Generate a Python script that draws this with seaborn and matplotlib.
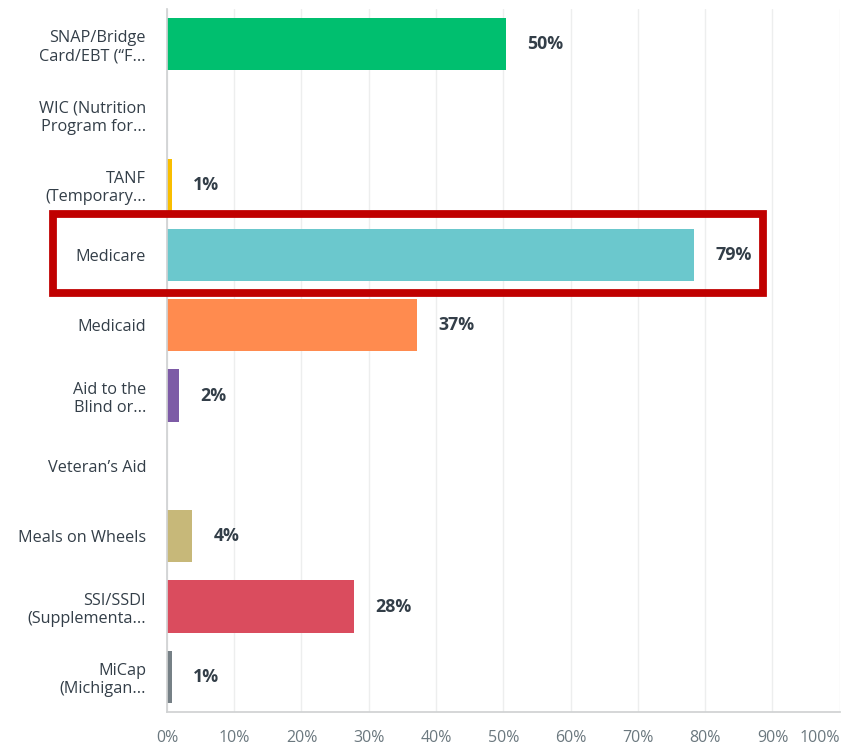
import matplotlib
matplotlib.use("Agg")
import matplotlib.pyplot as plt
from matplotlib.patches import Rectangle
import seaborn as sns
import pandas as pd

categories = [
    "SNAP/Bridge\nCard/EBT (“F...",
    "WIC (Nutrition\nProgram for...",
    "TANF\n(Temporary...",
    "Medicare",
    "Medicaid",
    "Aid to the\nBlind or...",
    "Veteran’s Aid",
    "Meals on Wheels",
    "SSI/SSDI\n(Supplementa...",
    "MiCap\n(Michigan...",
]
values = [50.4, 0.0, 0.7, 78.4, 37.1, 1.8, 0.0, 3.7, 27.8, 0.7]
value_labels = ["50%", "", "1%", "79%", "37%", "2%", "", "4%", "28%", "1%"]
colors = ["#00BF6F", "#507CB6", "#F9BE00", "#6BC8CD", "#FF8B4F",
          "#7D5BA6", "#DB4D5C", "#C7B879", "#DA4C5E", "#768086"]
x_ticks = [0, 10, 20, 30, 40, 50, 60, 70, 80, 90, 100]
x_tick_labels = [f"{t}%" for t in x_ticks]
highlight = "Medicare"

sns.set_theme(style="white")
plt.rcParams["font.family"] = ["Open Sans", "DejaVu Sans"]

df = pd.DataFrame({"category": categories, "value": values})

fig = plt.figure(figsize=(8.56, 7.45), dpi=100)
ax = fig.add_axes([0.195, 0.0443, 0.786, 0.944])

sns.barplot(data=df, x="value", y="category", hue="category",
            palette=colors, orient="h", width=0.74, legend=False,
            saturation=1, ax=ax, linewidth=0)

ax.set_xlim(0, 100)
ax.set_ylim(len(categories) - 0.5, -0.5)
ax.set_xticks(x_ticks)
ax.set_xticklabels(x_tick_labels, fontsize=11.5, color="#6B787F")
xt = ax.get_xticklabels()
xt[-1].set_horizontalalignment("right")
ax.set_yticks(range(len(categories)))
ax.set_yticklabels(categories, fontsize=11.7, color="#333E48", linespacing=1.2)
ax.tick_params(axis="x", length=0, pad=13)
ax.tick_params(axis="y", length=0, pad=15)
ax.set_xlabel("")
ax.set_ylabel("")

ax.grid(axis="x", color="#EDEEEE", linewidth=1)
ax.set_axisbelow(True)
for s in ["top", "right"]:
    ax.spines[s].set_visible(False)
ax.spines["left"].set_color("#D0D2D3")
ax.spines["bottom"].set_color("#D0D2D3")

for i, (v, lab) in enumerate(zip(values, value_labels)):
    if lab:
        ax.text(v + 3.2, i, lab, va="center", ha="left", fontsize=12.8,
                fontweight="bold", color="#333E48")

hi = categories.index(highlight)
rect = Rectangle((-16.9, hi - 0.585), 16.9 + 88.6, 1.13,
                 fill=False, edgecolor="#C00000", linewidth=5.6,
                 clip_on=False, zorder=5)
ax.add_patch(rect)

fig.savefig("out.png", dpi=100)
